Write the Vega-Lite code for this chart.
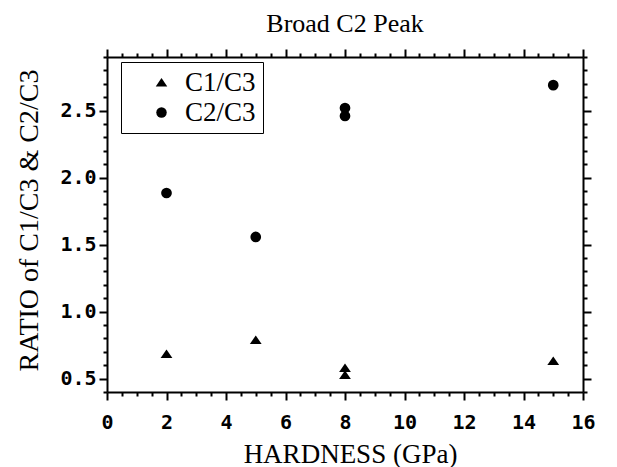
{
  "$schema": "https://vega.github.io/schema/vega-lite/v6.json",
  "autosize": {"type": "none"},
  "width": 476,
  "height": 335,
  "padding": {"left": 107, "top": 57, "right": 34, "bottom": 75},
  "background": "white",
  "config": {
    "view": {"stroke": null},
    "axis": {
      "domainColor": "black",
      "domainWidth": 2,
      "tickColor": "black",
      "tickWidth": 2,
      "grid": false,
      "labelFont": "DejaVu Sans Mono",
      "labelFontWeight": "bold",
      "labelFontSize": 20,
      "labelColor": "black",
      "labelOverlap": false,
      "labelFlush": false,
      "titleFont": "Liberation Serif",
      "titleFontWeight": "normal",
      "titleFontSize": 27,
      "titleColor": "black"
    }
  },
  "title": {
    "text": "Broad C2 Peak",
    "font": "Liberation Serif",
    "fontSize": 26,
    "fontWeight": "normal",
    "color": "black",
    "anchor": "middle",
    "frame": "group",
    "baseline": "alphabetic",
    "offset": -10
  },
  "data": {
    "values": [
      {"hardness": 2, "ratio": 0.684, "series": "C1/C3"},
      {"hardness": 5, "ratio": 0.788, "series": "C1/C3"},
      {"hardness": 8, "ratio": 0.579, "series": "C1/C3"},
      {"hardness": 8, "ratio": 0.527, "series": "C1/C3"},
      {"hardness": 15, "ratio": 0.631, "series": "C1/C3"},
      {"hardness": 2, "ratio": 1.885, "series": "C2/C3"},
      {"hardness": 5, "ratio": 1.557, "series": "C2/C3"},
      {"hardness": 8, "ratio": 2.519, "series": "C2/C3"},
      {"hardness": 8, "ratio": 2.46, "series": "C2/C3"},
      {"hardness": 15, "ratio": 2.69, "series": "C2/C3"}
    ]
  },
  "layer": [
    {
      "mark": {"type": "point", "opacity": 0},
      "encoding": {
        "x": {
          "field": "hardness",
          "type": "quantitative",
          "axis": {
            "orient": "bottom",
            "title": null,
            "labels": false,
            "domain": false,
            "tickSize": 4,
            "values": [0.5, 1, 1.5, 2.5, 3, 3.5, 4.5, 5, 5.5, 6.5, 7, 7.5, 8.5, 9, 9.5, 10.5, 11, 11.5, 12.5, 13, 13.5, 14.5, 15, 15.5]
          }
        },
        "y": {
          "field": "ratio",
          "type": "quantitative",
          "axis": {
            "orient": "left",
            "title": null,
            "labels": false,
            "domain": false,
            "tickSize": 4,
            "values": [0.4, 0.6, 0.7, 0.8, 0.9, 1.1, 1.2, 1.3, 1.4, 1.6, 1.7, 1.8, 1.9, 2.1, 2.2, 2.3, 2.4, 2.6, 2.7, 2.8, 2.9]
          }
        }
      }
    },
    {
      "mark": {"type": "point", "opacity": 0},
      "encoding": {
        "x": {
          "field": "hardness",
          "type": "quantitative",
          "axis": {
            "orient": "top",
            "title": null,
            "labels": false,
            "domain": false,
            "tickSize": 4,
            "values": [0.5, 1, 1.5, 2.5, 3, 3.5, 4.5, 5, 5.5, 6.5, 7, 7.5, 8.5, 9, 9.5, 10.5, 11, 11.5, 12.5, 13, 13.5, 14.5, 15, 15.5]
          }
        },
        "y": {
          "field": "ratio",
          "type": "quantitative",
          "axis": {
            "orient": "right",
            "title": null,
            "labels": false,
            "domain": false,
            "tickSize": 4,
            "values": [0.4, 0.6, 0.7, 0.8, 0.9, 1.1, 1.2, 1.3, 1.4, 1.6, 1.7, 1.8, 1.9, 2.1, 2.2, 2.3, 2.4, 2.6, 2.7, 2.8, 2.9]
          }
        }
      }
    },
    {
      "mark": {"type": "point", "opacity": 0},
      "encoding": {
        "x": {
          "field": "hardness",
          "type": "quantitative",
          "axis": {
            "orient": "top",
            "title": null,
            "labels": false,
            "tickSize": 8,
            "values": [0, 2, 4, 6, 8, 10, 12, 14, 16]
          }
        },
        "y": {
          "field": "ratio",
          "type": "quantitative",
          "axis": {
            "orient": "right",
            "title": null,
            "labels": false,
            "tickSize": 8,
            "values": [0.5, 1.0, 1.5, 2.0, 2.5]
          }
        }
      }
    },
    {
      "mark": {"type": "point", "filled": true, "color": "black", "opacity": 1},
      "encoding": {
        "x": {
          "field": "hardness",
          "type": "quantitative",
          "scale": {"domain": [0, 16], "nice": false, "zero": false},
          "axis": {
            "orient": "bottom",
            "title": "HARDNESS (GPa)",
            "values": [0, 2, 4, 6, 8, 10, 12, 14, 16],
            "tickSize": 8,
            "labelPadding": 12,
            "titleX": 243,
            "titleY": 70,
            "titleAlign": "center",
            "titleBaseline": "alphabetic"
          }
        },
        "y": {
          "field": "ratio",
          "type": "quantitative",
          "scale": {"domain": [0.4, 2.9], "nice": false, "zero": false},
          "axis": {
            "orient": "left",
            "title": "RATIO of C1/C3 & C2/C3",
            "titleFontSize": 28,
            "values": [0.5, 1.0, 1.5, 2.0, 2.5],
            "format": ".1f",
            "tickSize": 8,
            "labelPadding": 3,
            "titleX": -70,
            "titleY": 163,
            "titleAngle": -90,
            "titleAlign": "center",
            "titleBaseline": "alphabetic"
          }
        },
        "shape": {
          "field": "series",
          "type": "nominal",
          "scale": {"domain": ["C1/C3", "C2/C3"], "range": ["M-1.1,0.75L1.1,0.75L0,-0.85Z", "circle"]},
          "legend": {
            "title": null,
            "orient": "none",
            "legendX": 14,
            "legendY": 5,
            "padding": 7,
            "strokeColor": "black",
            "fillColor": "white",
            "labelFont": "Liberation Serif",
            "labelFontSize": 27,
            "labelColor": "black",
            "symbolFillColor": "black",
            "symbolStrokeColor": "black",
            "symbolSize": 110,
            "symbolOffset": 20,
            "labelOffset": 10,
            "rowPadding": 2,
            "encode": {"legend": {"update": {"strokeWidth": {"value": 2}}}}
          }
        },
        "size": {"value": 115}
      }
    }
  ],
  "resolve": {"axis": {"x": "independent", "y": "independent"}}
}
